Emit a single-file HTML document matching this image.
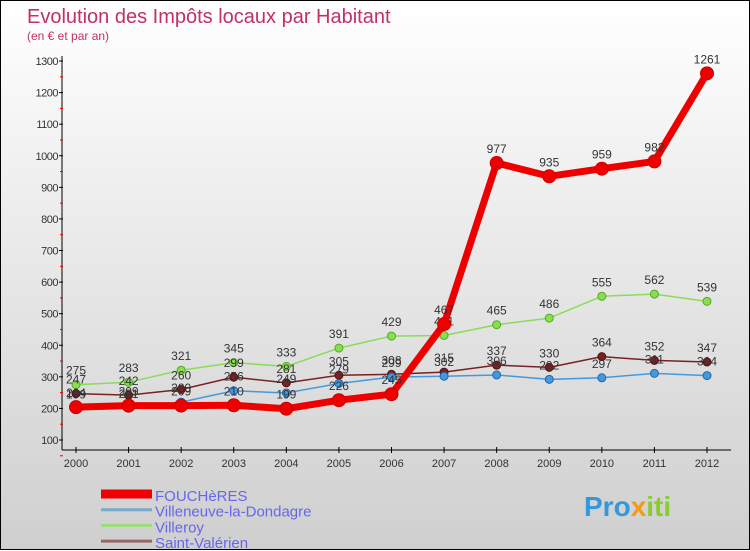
<!DOCTYPE html>
<html><head><meta charset="utf-8"><style>
html,body{margin:0;padding:0}
body{width:750px;height:550px;overflow:hidden;font-family:"Liberation Sans",sans-serif}
#wrap{position:relative;width:748px;height:548px;border:1px solid #000;background:linear-gradient(#ffffff,#cfcfcf)}
svg{position:absolute;left:0;top:0}
</style></head><body>
<div id="wrap">
<svg id="chart" width="750" height="550">
<text x="26" y="22" font-size="20" fill="#c0306a">Evolution des Impôts locaux par Habitant</text>
<text x="26" y="39" font-size="12" fill="#c0306a">(en € et par an)</text>
<g id="axes"></g>
<g id="series"></g>
<g id="legend"></g>
<text x="583" y="515" font-size="28" font-weight="bold" fill="#3399dd">Pro<tspan fill="#f39c12">x</tspan><tspan fill="#88cc33">iti</tspan></text>
</svg>
</div>
<script>
const years=[2000,2001,2002,2003,2004,2005,2006,2007,2008,2009,2010,2011,2012];
const yTicks=[100,200,300,400,500,600,700,800,900,1000,1100,1200,1300];
const foucheres=[204,209,209,210,199,226,245,467,977,935,959,982,1261];
const villeneuve=[199,201,220,256,249,279,299,302,306,292,297,311,304];
const villeroy=[275,283,321,345,333,391,429,431,465,486,555,562,539];
const saintval=[247,242,260,299,281,305,308,315,337,330,364,352,347];
const seriesNames=["FOUCHèRES","Villeneuve-la-Dondagre","Villeroy","Saint-Valérien"];
const NS="http://www.w3.org/2000/svg";
const X=i=>75+i*(706-75)/12;
const Y=v=>439-(v-100)*(439-60)/1200;
function mk(tag,attrs,parent){const e=document.createElementNS(NS,tag);for(const k in attrs)e.setAttribute(k,attrs[k]);parent.appendChild(e);return e;}
const axes=document.getElementById('axes');
let l=mk('line',{x1:61,y1:55,x2:61,y2:449,stroke:'#000','stroke-width':1},axes);


l=mk('line',{x1:61,y1:449,x2:730,y2:449,stroke:'#000','stroke-width':1},axes);


yTicks.forEach(v=>{
  const y=Y(v);
  mk('line',{x1:58,y1:y,x2:62,y2:y,stroke:'#000'},axes);
  mk('line',{x1:59,y1:y+15.8,x2:62,y2:y+15.8,stroke:'#e00'},axes);
  const t=mk('text',{x:57,y:y+4,'font-size':11,fill:'#333','text-anchor':'end','letter-spacing':'-0.5'},axes);
  t.textContent=v;
  
  
});
years.forEach((yr,i)=>{
  const x=X(i);
  mk('line',{x1:x,y1:446,x2:x,y2:452,stroke:'#000'},axes);
  const t=mk('text',{x:x,y:466,'font-size':11,fill:'#333','text-anchor':'middle'},axes);
  t.textContent=yr;
  
  
});
const sg=document.getElementById('series');
function draw(data,color,w,r,name,dark){
  const g=mk('g',{},sg);
  
  
  const p=mk('polyline',{points:data.map((v,i)=>X(i)+','+Y(v)).join(' '),fill:'none',stroke:color,'stroke-width':w,'stroke-linejoin':'round'},g);
  
  
  data.forEach((v,i)=>{
    const c=mk('circle',{cx:X(i),cy:Y(v),r:r,fill:color,stroke:dark,'stroke-width':1},g);
    
    
    const t=mk('text',{x:X(i),y:Y(v)-10,'font-size':12,fill:'#333','text-anchor':'middle'},g);
    t.textContent=v;
    
    
  });
}
draw(villeroy,'#88dd55',1.5,4,'villeroy','#55aa22');
draw(saintval,'#772222',1.5,4,'saint-valerien','#551111');
draw(villeneuve,'#4499dd',1.5,4,'villeneuve','#2266aa');
draw(foucheres,'#ee0000',7,6.5,'foucheres','#cc0000');
const lg=document.getElementById('legend');
const lcol=['#ee0000','#77aacc','#99dd77','#996666'];
const lw=[9,3,3,3];
seriesNames.forEach((n,i)=>{
  const y=493+i*15.7;
  const ln=mk('line',{x1:100,y1:y,x2:151,y2:y,stroke:lcol[i],'stroke-width':lw[i]},lg);
  
  
  const t=mk('text',{x:154,y:y+7,'font-size':15,fill:'#6666ee'},lg);
  t.textContent=n;
  
  
});
</script>
</body></html>
